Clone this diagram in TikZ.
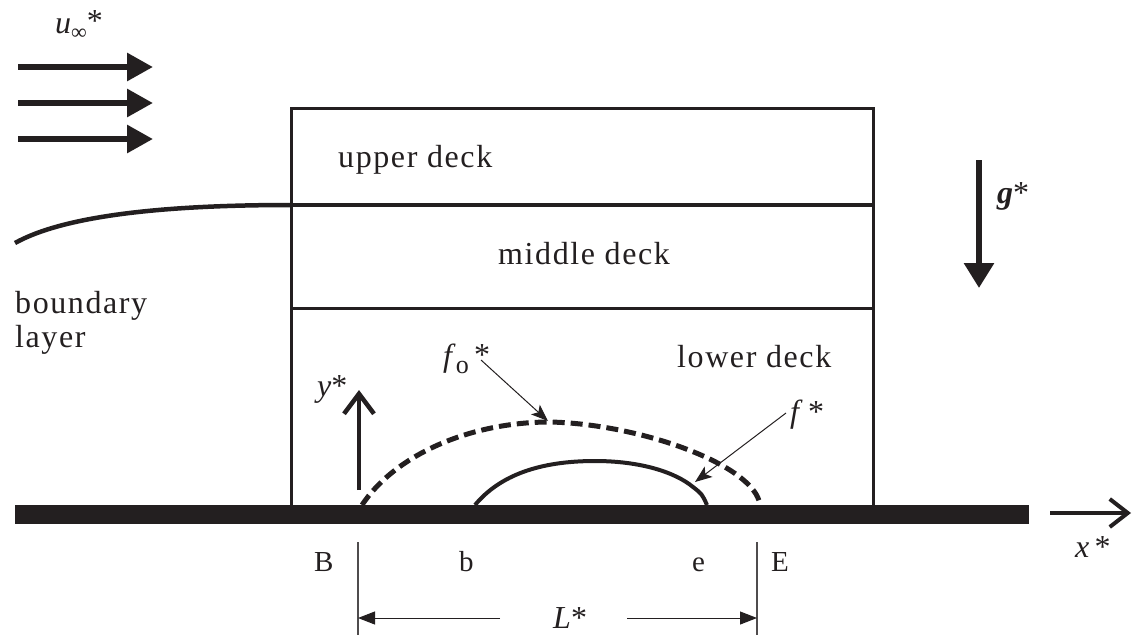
\documentclass[tikz,border=0pt]{standalone}
\usepackage{fontspec}
\setmainfont{Liberation Serif}
\usetikzlibrary{arrows.meta}
\definecolor{ink}{RGB}{35,31,32}
\begin{document}
\begin{tikzpicture}[x=1pt,y=-1pt,
  txt/.style={inner sep=0pt,anchor=base west,text=ink,font=\fontsize{32}{36}\selectfont\addfontfeatures{LetterSpace=5}},
  lbl/.style={inner sep=0pt,anchor=base west,text=ink,font=\fontsize{29}{32}\selectfont},
  mth/.style={inner sep=0pt,anchor=base west,text=ink,font=\fontsize{32}{36}\selectfont},
  boxline/.style={draw=ink,line width=3pt},
  flowarrow/.style={draw=ink,line width=6pt,-{Triangle[length=26pt,width=27pt]}},
  axisarrow/.style={draw=ink,line width=4.5pt,-{Straight Barb[length=20pt,width=30pt]}},
  leader/.style={draw=ink,line width=1pt,-{Stealth[length=17pt,width=13pt,inset=4pt]}},
  dimline/.style={draw=ink!80,line width=1.2pt},
  dimarrow/.style={draw=ink,line width=1pt,-{Triangle[length=17pt,width=13pt]}}]
\useasboundingbox (0,0) rectangle (1133,635);
% coordinates
\coordinate (BL) at (291,505);
\coordinate (TL) at (291,108);
\coordinate (TR) at (873,108);
\coordinate (BR) at (873,505);
\coordinate (m1L) at (291,205);
\coordinate (m1R) at (873,205);
\coordinate (m2L) at (291,308);
\coordinate (m2R) at (873,308);
% box
\draw[boxline] (BL) -- (TL) -- (TR) -- (BR);
\draw[draw=ink,line width=4pt] (m1L) -- (m1R);
\draw[boxline] (m2L) -- (m2R);
% plate
\fill[ink] (15,505) rectangle (1029,524);
% boundary layer edge
\coordinate (blstart) at (15,243);
\draw[draw=ink,line width=4.5pt] (blstart) .. controls (60,218) and (150,205) .. (m1L);
% free stream arrows
\foreach \yy/\nm in {67/a,103/b,139/c}{
  \coordinate (fs\nm s) at (18,\yy);
  \coordinate (fs\nm e) at (153,\yy);
  \draw[flowarrow] (fs\nm s) -- (fs\nm e);
}
\node[mth] (uinf) at (55,33) {\textit{u}\raisebox{-6pt}{\fontsize{22}{22}\selectfont ∞}\raisebox{2pt}{*}};
% gravity
\coordinate (gs) at (979,160);
\coordinate (ge) at (979,288);
\draw[flowarrow,-{Triangle[length=25pt,width=29pt]}] (gs) -- (ge);
\node[mth] (glab) at (997,203) {\textbf{\textit{g}}*};
% labels
\node[txt] (upper) at (338,167) {upper deck};
\node[txt] (middle) at (498,264) {middle deck};
\node[txt] (lower) at (677,367) {lower deck};
\node[txt] (bl1) at (15,313) {boundary};
\node[txt] (bl2) at (15,347) {layer};
% y axis
\coordinate (ys) at (359,490);
\coordinate (ye) at (359,390);
\draw[axisarrow] (ys) -- (ye);
\node[mth] (ylab) at (317,396) {\textit{y}*};
% x axis
\coordinate (xs) at (1050,513);
\coordinate (xe) at (1131,513);
\draw[axisarrow,line width=4pt,-{Straight Barb[length=18pt,width=28pt]}] (xs) -- (xe);
\node[mth] (xlab) at (1075,557) {\textit{x}\,*};
% dashed f0
\coordinate (dB) at (362,505);
\coordinate (dtop) at (550,422);
\coordinate (dE) at (760,505);
\draw[draw=ink,line width=5pt,dash pattern=on 12pt off 6pt] (dB) .. controls (395,455) and (470,422) .. (dtop) .. controls (640,424) and (755,465) .. (dE);
% solid f
\coordinate (sb) at (475,505);
\coordinate (stop) at (595,461);
\coordinate (sk) at (693,487);
\coordinate (se) at (707,505);
\draw[draw=ink,line width=4pt] (sb) .. controls (500,475) and (540,461) .. (stop) .. controls (640,461) and (675,472) .. (sk) .. controls (702,494) .. (se);
% leaders
\node[mth] (f0lab) at (443,366) {\textit{f}\raisebox{-7pt}{\fontsize{26}{26}\selectfont o}\,\raisebox{1pt}{*}};
\coordinate (f0s) at (481,360);
\coordinate (f0e) at (548,421);
\draw[leader] (f0s) -- (f0e);
\node[mth] (flab) at (790,422) {\textit{f}\,*};
\coordinate (fs) at (786,413);
\coordinate (fe) at (695,482);
\draw[leader] (fs) -- (fe);
% dimension
\coordinate (tBt) at (358,542);
\coordinate (tBb) at (358,635);
\coordinate (tEt) at (757,542);
\coordinate (tEb) at (757,635);
\draw[dimline] (tBt) -- (tBb);
\draw[dimline] (tEt) -- (tEb);
\node[lbl] (Blab) at (314,571) {B};
\node[lbl] (blab) at (459,571) {b};
\node[lbl] (elab) at (692,571) {e};
\node[lbl] (Elab) at (771,571) {E};
\node[mth] (Llab) at (553,628) {\textit{L}*};
\coordinate (L1s) at (500,618);
\coordinate (L1e) at (358,618);
\coordinate (L2s) at (627,618);
\coordinate (L2e) at (757,618);
\draw[dimarrow] (L1s) -- (L1e);
\draw[dimarrow] (L2s) -- (L2e);
\end{tikzpicture}
\end{document}
